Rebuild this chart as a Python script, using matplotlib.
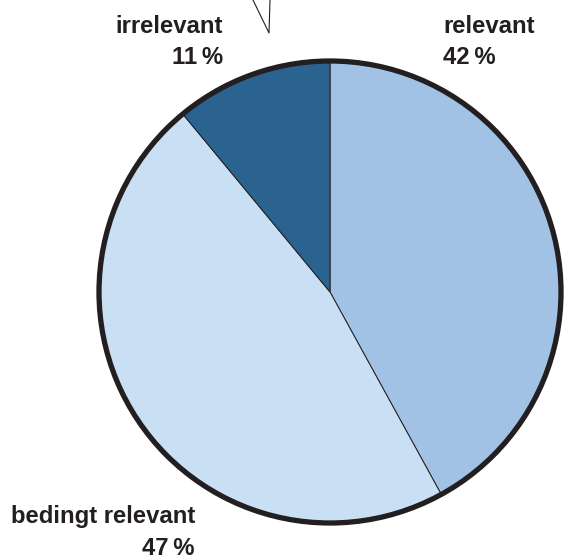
import matplotlib.pyplot as plt
from matplotlib.patches import Circle

categories = ['relevant', 'bedingt relevant', 'irrelevant']
shares = [42, 47, 11]
colors = ['#a2c2e5', '#c9e0f4', '#2a6390']

W, H = 565, 559
ink = '#231f20'

fig = plt.figure(figsize=(W / 100, H / 100), dpi=100)
ax = fig.add_axes([0, 0, 1, 1])

cx, cy, r = 330, H - 292, 231

ax.pie(shares, colors=colors, startangle=90, counterclock=False,
       center=(cx, cy), radius=r, frame=True,
       wedgeprops=dict(edgecolor=ink, linewidth=0.7))
ax.set_xlim(0, W)
ax.set_ylim(0, H)
ax.set_aspect('equal')
ax.axis('off')
ax.add_patch(Circle((cx, cy), r, fill=False, edgecolor=ink, linewidth=3.8))

# speech bubble tail at the top
ax.plot([253, 269, 270], [H, H - 33, H], color=ink, lw=0.8, clip_on=False)

font = dict(family=['Liberation Sans', 'DejaVu Sans'], fontsize=17.2,
            fontweight='bold', color=ink, va='baseline')

ax.text(223, H - 33, categories[2], ha='right', **font)
ax.text(223, H - 64, '{}\u2009%'.format(shares[2]), ha='right', **font)
ax.text(443, H - 33, categories[0], ha='left', **font)
ax.text(443, H - 64, '{}\u2009%'.format(shares[0]), ha='left', **font)
ax.text(195, H - 523, categories[1], ha='right', **font)
ax.text(195, H - 555, '{}\u2009%'.format(shares[1]), ha='right', **font)

fig.savefig('out.png', dpi=100)
